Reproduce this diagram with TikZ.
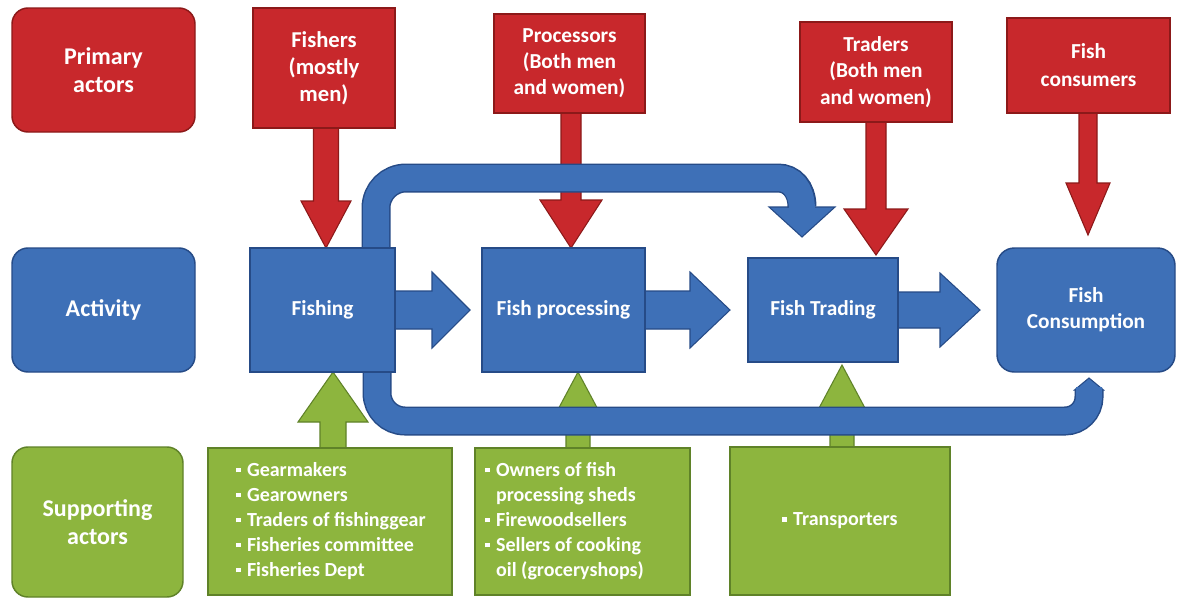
\documentclass[tikz,border=0pt]{standalone}
\usepackage{fontspec}
\setmainfont{Carlito}
\usetikzlibrary{calc}
\definecolor{redF}{RGB}{200,40,44}
\definecolor{redD}{RGB}{140,25,25}
\definecolor{bluF}{RGB}{62,112,183}
\definecolor{bluD}{RGB}{38,75,135}
\definecolor{grnF}{RGB}{141,181,62}
\definecolor{grnD}{RGB}{95,130,40}
\def\u{0.75pt}
% block arrows: #1 style, #2 start, #3 tip, #4 shaft half width, #5 head half width, #6 head length
\newcommand\blkdown[6]{\draw[#1] ($(#2)+(-#4,0)$) -- ($(#3)+(-#4,-#6)$) -- ($(#3)+(-#5,-#6)$) -- (#3) -- ($(#3)+(#5,-#6)$) -- ($(#3)+(#4,-#6)$) -- ($(#2)+(#4,0)$) -- cycle;}
\newcommand\blkup[6]{\draw[#1] ($(#2)+(-#4,0)$) -- ($(#3)+(-#4,#6)$) -- ($(#3)+(-#5,#6)$) -- (#3) -- ($(#3)+(#5,#6)$) -- ($(#3)+(#4,#6)$) -- ($(#2)+(#4,0)$) -- cycle;}
\newcommand\blkright[6]{\draw[#1] ($(#2)+(0,-#4)$) -- ($(#3)+(-#6,-#4)$) -- ($(#3)+(-#6,-#5)$) -- (#3) -- ($(#3)+(-#6,#5)$) -- ($(#3)+(-#6,#4)$) -- ($(#2)+(0,#4)$) -- cycle;}
\newcommand\blt{\raisebox{0.2em}{\rule{0.24em}{0.24em}}\hspace{0.3em}}
\begin{document}
\begin{tikzpicture}[x=0.75pt,y=-0.75pt,
  box/.style={text=white, align=center, inner sep=0pt, line width=1.1pt},
  redbox/.style={box, fill=redF, draw=redD},
  blubox/.style={box, fill=bluF, draw=bluD},
  grnbox/.style={box, fill=grnF, draw=grnD},
  legfont/.style={font={\fontsize{18}{21}\selectfont\bfseries}},
  redarr/.style={fill=redF, draw=redD, line width=0.8pt},
  grnarr/.style={fill=grnF, draw=grnD, line width=0.8pt},
  bluarr/.style={fill=bluF, draw=bluD, line width=0.8pt},
  gtxt/.style={text=white, align=left, inner sep=0pt, font={\fontsize{15}{18.75}\selectfont\bfseries}}
]
\useasboundingbox[fill=white] (0,0) rectangle (1179,601);

% ---------- legend ----------
\node[redbox, legfont, rounded corners=12pt, minimum width=183*\u, minimum height=124*\u] (prim) at (103.5,70) {Primary\\actors};
\node[blubox, legfont, rounded corners=12pt, minimum width=183*\u, minimum height=124*\u] (act) at (103.5,310) {Activity};
\node[grnbox, legfont, rounded corners=12pt, minimum width=171*\u, minimum height=150*\u] (supp) at (97.5,522) {Supporting\\actors};

% ---------- coordinates for arrow tips ----------
\coordinate (t1) at (326,248);
\coordinate (t2) at (571,248);
\coordinate (t3) at (876,255);
\coordinate (t4) at (1088,235);
\coordinate (u1) at (333,372);
\coordinate (u2) at (578,372);
\coordinate (u3) at (842,365);
\coordinate (r1) at (470,310);
\coordinate (r2) at (730,310);
\coordinate (r3) at (980,310);

\path (324,68) coordinate (fishersC) (569.5,63.5) coordinate (procC) (876,72) coordinate (tradC) (1088.5,65.5) coordinate (consC);

% red arrows
\coordinate (t1s) at (326,120);
\coordinate (t2s) at (571,105);
\coordinate (t3s) at (876,114);
\coordinate (t4s) at (1088,105);
\blkdown{redarr}{t1s}{t1}{12.5}{25}{47}
\blkdown{redarr}{t2s}{t2}{10}{31}{48}
\blkdown{redarr}{t3s}{t3}{10}{32}{46}
\blkdown{redarr}{t4s}{t4}{9}{22}{52}

% green arrows
\coordinate (u1s) at (333,455);
\coordinate (u2s) at (578,455);
\coordinate (u3s) at (842,455);
\blkup{grnarr}{u1s}{u1}{13}{35}{50}
\blkup{grnarr}{u2s}{u2}{12}{24}{45}
\blkup{grnarr}{u3s}{u3}{12}{24}{45}

% blue right arrows
\coordinate (r1s) at (390,310);
\coordinate (r2s) at (640,310);
\coordinate (r3s) at (893,310);
\blkright{bluarr}{r1s}{r1}{19}{38}{38}
\blkright{bluarr}{r2s}{r2}{19}{38}{40}
\blkright{bluarr}{r3s}{r3}{18}{37}{40}

% ---------- top U-turn arrow: Fishing -> Fish Trading ----------
\coordinate (ua) at (376,300);
\coordinate (ub) at (802,207);
\coordinate (utip) at (802,237);
\draw[bluarr] (769,207) -- (utip) -- (835,207) -- cycle;
\draw[bluD, line width=29*\u] (ua) -- (376,208) .. controls (376,191.4) and (389.4,178) .. (406,178) -- (778,178) .. controls (791.3,178) and (802,188.7) .. (ub);
\draw[bluF, line width=26*\u] (ua) -- (376,208) .. controls (376,191.4) and (389.4,178) .. (406,178) -- (778,178) .. controls (791.3,178) and (802,188.7) .. (802,210);

% ---------- bottom U-turn arrow: Fish Consumption -> Fishing ----------
\coordinate (la) at (377,330);
\coordinate (lb) at (1089,390);
\draw[bluarr] (1074.5,390) -- (1089,378) -- (1103.5,390) -- cycle;
\draw[bluD, line width=29*\u] (lb) -- (1089,397) .. controls (1089,410.3) and (1078.3,421) .. (1065,421) -- (405,421) .. controls (389.5,421) and (377,408.5) .. (377,393) -- (la);
\draw[bluF, line width=26*\u] (1089,387) -- (1089,397) .. controls (1089,410.3) and (1078.3,421) .. (1065,421) -- (405,421) .. controls (389.5,421) and (377,408.5) .. (377,393) -- (la);

% ---------- primary actors ----------
\node[redbox, font={\fontsize{17}{20.25}\selectfont\bfseries}, minimum width=142*\u, minimum height=120*\u] (fishers) at (fishersC) {Fishers\\(mostly\\men)};
\node[redbox, font={\fontsize{16}{19.5}\selectfont\bfseries}, minimum width=151*\u, minimum height=99*\u] (proc) at (procC) {Processors\\(Both men\\and women)};
\node[redbox, font={\fontsize{16}{20}\selectfont\bfseries}, minimum width=152*\u, minimum height=100*\u] (trad) at (tradC) {Traders\\(Both men\\and women)};
\node[redbox, font={\fontsize{16}{21}\selectfont\bfseries}, minimum width=163*\u, minimum height=95*\u] (cons) at (consC) {Fish\\consumers};

% ---------- activities ----------
\node[blubox, font={\fontsize{16}{19.5}\selectfont\bfseries}, minimum width=145*\u, minimum height=124*\u] (fishing) at (322.5,310) {Fishing};
\node[blubox, font={\fontsize{16}{19.5}\selectfont\bfseries}, minimum width=163*\u, minimum height=124*\u] (fproc) at (563.5,310) {Fish processing};
\node[blubox, font={\fontsize{16}{19.5}\selectfont\bfseries}, minimum width=150*\u, minimum height=104*\u] (ftrad) at (823,310) {Fish Trading};
\node[blubox, font={\fontsize{16}{19.5}\selectfont\bfseries}, rounded corners=13pt, minimum width=178*\u, minimum height=124*\u] (fcons) at (1086,310) {Fish\\Consumption};

% ---------- supporting actors ----------
\node[grnbox, minimum width=244*\u, minimum height=147*\u] (g1) at (330,521.5) {};
\node[grnbox, minimum width=215*\u, minimum height=147*\u] (g2) at (582.5,521.5) {};
\node[grnbox, minimum width=220*\u, minimum height=148*\u] (g3) at (840,521) {};
\node[gtxt, anchor=west] (g1t) at (236,521) {\blt Gearmakers\\\blt Gearowners\\\blt Traders of fishinggear\\\blt Fisheries committee\\\blt Fisheries Dept};
\node[gtxt, anchor=west] (g2t) at (485,521) {\blt Owners of fish\\\phantom{\blt}processing sheds\\\blt Firewoodsellers\\\blt Sellers of cooking\\\phantom{\blt}oil (groceryshops)};
\node[gtxt] (g3t) at (840,521) {\blt Transporters};
\end{tikzpicture}
\end{document}
